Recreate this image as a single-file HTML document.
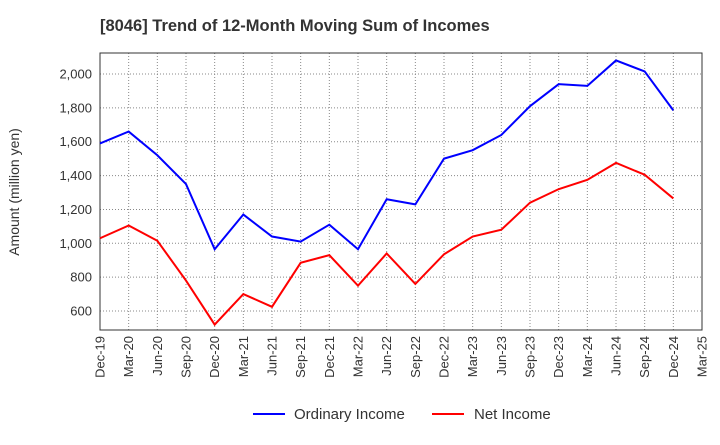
<!DOCTYPE html>
<html><head><meta charset="utf-8"><style>
body{margin:0;background:#fff;font-family:"Liberation Sans",sans-serif}
</style></head><body>
<svg id="c" width="720" height="440" xmlns="http://www.w3.org/2000/svg">
<text x="100" y="31" font-size="16.5" font-weight="bold" fill="#333">[8046]  Trend of 12-Month Moving Sum of Incomes</text>
<text transform="translate(19,192) rotate(-90)" text-anchor="middle" font-size="14" fill="#333">Amount (million yen)</text>
<g id="grid"></g><g id="axes"></g><g id="series"></g>
<g>
<line x1="253" y1="414" x2="285" y2="414" stroke="#0000ff" stroke-width="2"/>
<text x="294" y="419" font-size="15" fill="#333">Ordinary Income</text>
<line x1="432" y1="414" x2="464" y2="414" stroke="#ff0000" stroke-width="2"/>
<text x="474" y="419" font-size="15" fill="#333">Net Income</text>
</g>
</svg>
<script>
const categories=["Dec-19","Mar-20","Jun-20","Sep-20","Dec-20","Mar-21","Jun-21","Sep-21","Dec-21","Mar-22","Jun-22","Sep-22","Dec-22","Mar-23","Jun-23","Sep-23","Dec-23","Mar-24","Jun-24","Sep-24","Dec-24","Mar-25"];
const ordinaryIncome=[1590,1660,1520,1350,965,1170,1040,1010,1110,965,1260,1230,1500,1550,1640,1810,1940,1930,2080,2015,1785];
const netIncome=[1030,1105,1015,780,520,700,625,885,930,750,940,760,935,1040,1080,1240,1320,1375,1475,1405,1265];
const yTicks=[600,800,1000,1200,1400,1600,1800,2000];
const NS="http://www.w3.org/2000/svg";
const L=100,R=702,T=53,B=330,yMin=488,yMax=2124;
function xS(i){return L+i*(R-L)/(categories.length-1);}
function yS(v){return B-(v-yMin)*(B-T)/(yMax-yMin);}
function mk(t,a,p){const e=document.createElementNS(NS,t);for(const k in a)e.setAttribute(k,a[k]);p.appendChild(e);return e;}
const grid=document.getElementById('grid'),axes=document.getElementById('axes'),ser=document.getElementById('series');
categories.forEach((c,i)=>{
 const x=xS(i);
 const g=mk('line',{x1:x,x2:x,y1:T,y2:B,stroke:'#888','stroke-dasharray':'1,2','stroke-width':1},grid);
 
 
 const t=mk('text',{transform:`translate(${x+4.5},${B+6}) rotate(-90)`,'text-anchor':'end','font-size':13,fill:'#333'},axes);
 t.textContent=c;
 
 
});
yTicks.forEach(v=>{
 const y=yS(v);
 const g=mk('line',{x1:L,x2:R,y1:y,y2:y,stroke:'#888','stroke-dasharray':'1,2','stroke-width':1},grid);
 
 
 const t=mk('text',{x:L-8,y:y+4.5,'text-anchor':'end','font-size':13,fill:'#333'},axes);
 t.textContent=v.toLocaleString('en-US');
 
 
});
const fr=mk('rect',{x:L,y:T,width:R-L,height:B-T,fill:'none',stroke:'#333','stroke-width':1},axes);


function line(d,col,name){
 const p=mk('polyline',{points:d.map((v,i)=>xS(i)+','+yS(v)).join(' '),fill:'none',stroke:col,'stroke-width':2},ser);
 
 
}
line(ordinaryIncome,'#0000ff','ordinary-income-line');
line(netIncome,'#ff0000','net-income-line');
</script>
</body></html>
